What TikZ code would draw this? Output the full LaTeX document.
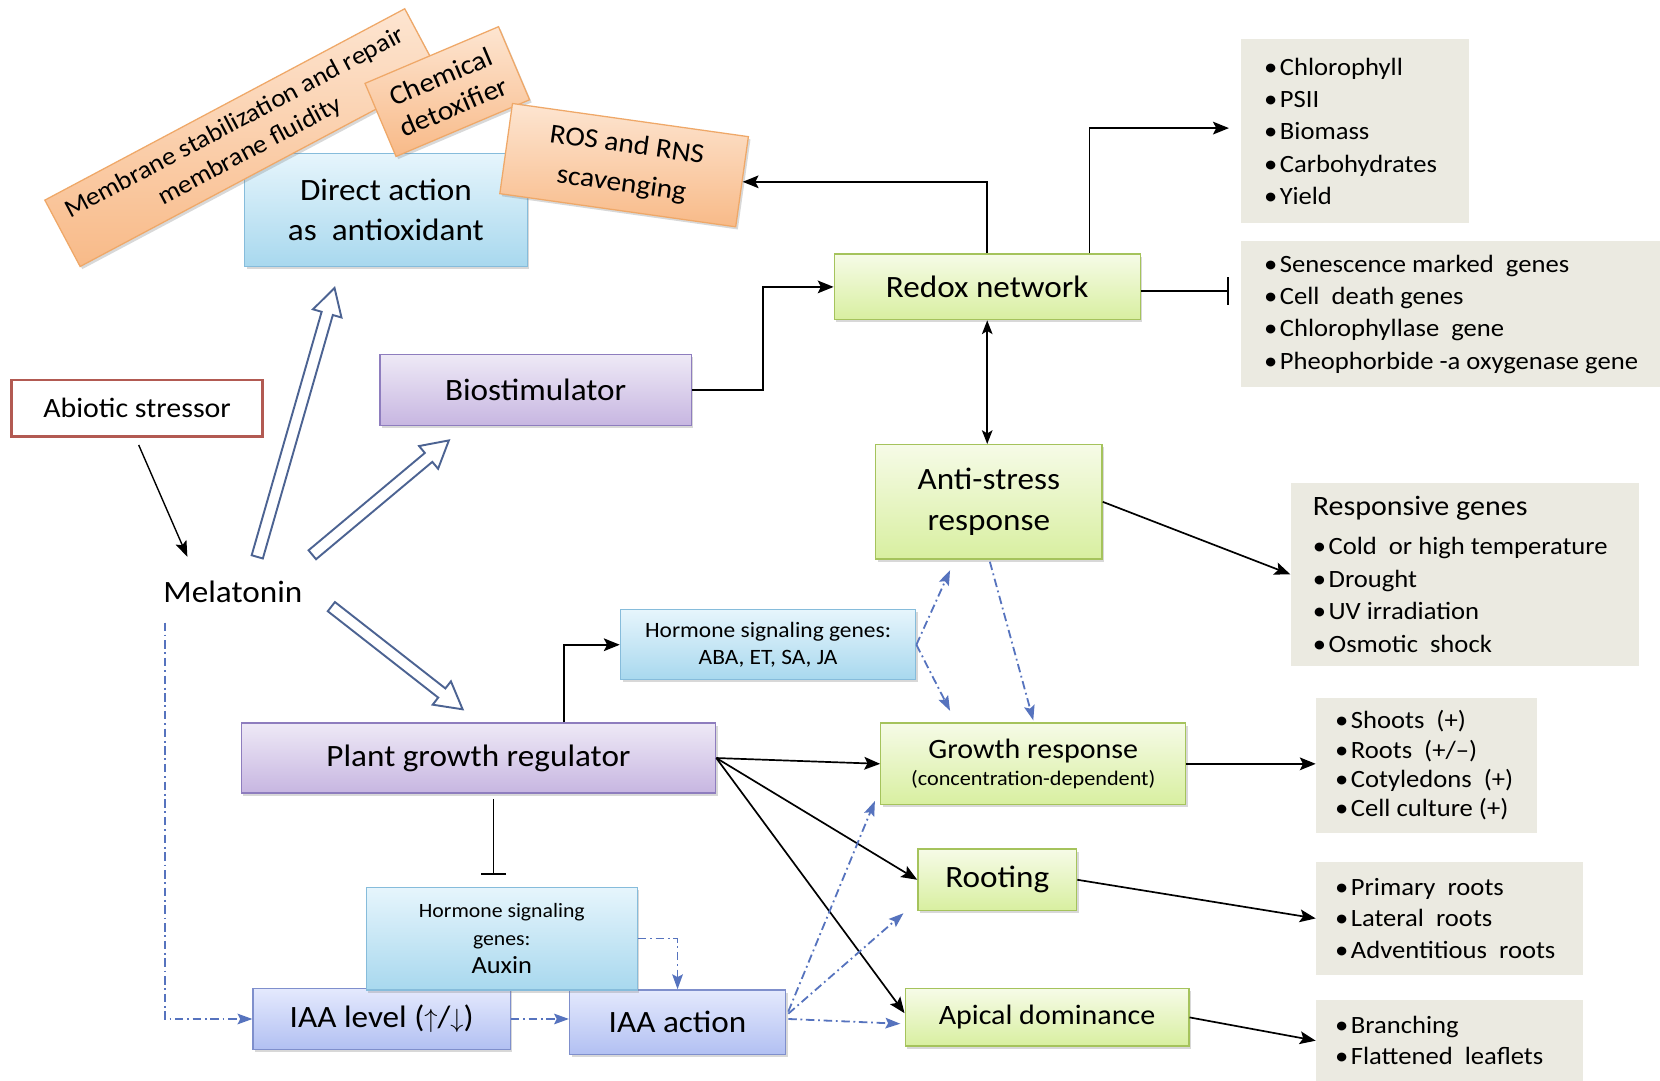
\documentclass[tikz,border=0pt]{standalone}
\usepackage{fontspec}
\setmainfont{Carlito}[FakeStretch=1.07]
\usetikzlibrary{arrows.meta,calc,shadows}
\definecolor{orA}{HTML}{FDE5D1}
\definecolor{orB}{HTML}{F8BA88}
\definecolor{orbd}{HTML}{EFA868}
\definecolor{blA}{HTML}{E6F5FC}
\definecolor{blB}{HTML}{A8D8EE}
\definecolor{blbd}{HTML}{86BCDB}
\definecolor{puA}{HTML}{EEE9F6}
\definecolor{puB}{HTML}{C7B6E1}
\definecolor{pubd}{HTML}{8E7DBE}
\definecolor{grA}{HTML}{F6FBE7}
\definecolor{grB}{HTML}{D8EFA0}
\definecolor{grbd}{HTML}{A5C35C}
\definecolor{iaA}{HTML}{E4E9FD}
\definecolor{iaB}{HTML}{B2C0F2}
\definecolor{iabd}{HTML}{7F8FCC}
\definecolor{grayL}{HTML}{EBEAE1}
\definecolor{abibd}{HTML}{B25A52}
\definecolor{hollowc}{HTML}{4C6392}
\definecolor{blueln}{HTML}{5673BE}
\newcommand\fsz[2]{\fontsize{#1pt}{#2pt}\selectfont}
\newcommand\bl{\makebox[15pt][l]{\textbullet}}
\newcommand\hollowarr[2]{%
  \coordinate (hh) at ($(#2)!25pt!(#1)$);
  \filldraw[hollow] ($(#1)!5.5pt!90:(#2)$) -- ($(hh)!5.5pt!90:(#2)$) -- ($(hh)!14pt!90:(#2)$) -- (#2)
    -- ($(hh)!14pt!-90:(#2)$) -- ($(hh)!5.5pt!-90:(#2)$) -- ($(#1)!5.5pt!-90:(#2)$) -- cycle;}
\begin{document}
\begin{tikzpicture}[x=1pt,y=-1pt,
  box/.style={draw, line width=1.2pt, inner sep=0pt, align=center,
    drop shadow={shadow xshift=2pt, shadow yshift=-2.5pt, opacity=0.3, fill=black!50}},
  orangebox/.style={box, draw=orbd, top color=orA, bottom color=orB},
  bluebox/.style={box, draw=blbd, top color=blA, bottom color=blB},
  purplebox/.style={box, draw=pubd, top color=puA, bottom color=puB},
  greenbox/.style={box, draw=grbd, top color=grA, bottom color=grB},
  iaabox/.style={box, draw=iabd, top color=iaA, bottom color=iaB},
  gbox/.style={fill=grayL, inner sep=0pt},
  gtext/.style={anchor=west, align=left, inner sep=0pt},
  arr/.style={line width=1.6pt, -{Stealth[length=15pt,width=12pt,inset=3pt]}},
  arrboth/.style={line width=1.6pt, {Stealth[length=13pt,width=10pt,inset=3pt]}-{Stealth[length=13pt,width=10pt,inset=3pt]}},
  tbar/.style={line width=1.6pt, -{Bar[width=26pt,line width=1.6pt]}},
  dd/.style={blueln, line width=1.7pt, dash pattern=on 8pt off 3.5pt on 1.7pt off 3.5pt,
    -{Stealth[length=14pt,width=10pt,inset=2.5pt]}},
  hollow/.style={draw=hollowc, line width=1.8pt, fill=white, line join=miter}]
\fill[white] (0,0) rectangle (1568,1021);
\useasboundingbox (0,0) rectangle (1568,1021);

% grey list boxes
\node[gbox, minimum width=216pt, minimum height=174pt] (L1) at (1280,124) {};
\node[gtext, font=\fsz{23.5}{30.5}] (T1) at ($(L1.west)+(22,0)$)
  {\bl Chlorophyll\\\bl PSII\\\bl Biomass\\\bl Carbohydrates\\\bl Yield};
\node[gbox, minimum width=396pt, minimum height=138pt] (L2) at (1370,297) {};
\node[gtext, font=\fsz{23.5}{30.3}] (T2) at ($(L2.west)+(22,0)$)
  {\bl Senescence marked\ \ genes\\\bl Cell\ \ death genes\\\bl Chlorophyllase\ \ gene\\\bl Pheophorbide -a oxygenase gene};
\node[gbox, minimum width=329pt, minimum height=173pt] (L3) at (1383.5,542.5) {};
\node[gtext, font=\fsz{23.5}{30.7}] (T3) at ($(L3.west)+(21,0)$)
  {{\fsz{26.5}{30.7}Responsive genes}\\[6pt]\bl Cold\ \ or high temperature\\\bl Drought\\\bl UV irradiation\\\bl Osmotic\ \ shock};
\node[gbox, minimum width=209pt, minimum height=128pt] (L4) at (1347.5,723) {};
\node[gtext, font=\fsz{23.5}{27.7}] (T4) at ($(L4.west)+(18,0)$)
  {\bl Shoots\ \ (+)\\\bl Roots\ \ (+/--)\\\bl Cotyledons\ \ (+)\\\bl Cell culture (+)};
\node[gbox, minimum width=252pt, minimum height=107pt] (L5) at (1369,867.5) {};
\node[gtext, font=\fsz{23.5}{29.5}] (T5) at ($(L5.west)+(18,0)$)
  {\bl Primary\ \ roots\\\bl Lateral\ \ roots\\\bl Adventitious\ \ roots};
\node[gbox, minimum width=252pt, minimum height=76pt] (L6) at (1369,983) {};
\node[gtext, font=\fsz{23.5}{29}] (T6) at ($(L6.west)+(18,0)$)
  {\bl Branching\\\bl Flattened\ \ leaflets};

% main boxes
\node[bluebox, minimum width=267pt, minimum height=107pt, font=\fsz{29.3}{38}] (da) at (364.5,198.5) {Direct action\\as\ \ antioxidant};
\node[orangebox, rotate=28, minimum width=385pt, minimum height=71pt, font=\fsz{24}{30}] (mem) at (229,130) {Membrane stabilization and repair\\membrane fluidity};
\node[orangebox, rotate=23, minimum width=137pt, minimum height=75pt, font=\fsz{26}{31}] (chem) at (422.5,86.5) {Chemical\\detoxifier};
\node[orangebox, rotate=-8, minimum width=225pt, minimum height=86pt, font=\fsz{26}{37}] (ros) at (589.5,156) {ROS and RNS\\scavenging};
\node[greenbox, minimum width=289pt, minimum height=62pt, font=\fsz{29.3}{38}] (redox) at (932.5,271) {Redox network};
\node[purplebox, minimum width=294pt, minimum height=67pt, font=\fsz{29.3}{38}] (bio) at (506,368.5) {Biostimulator};
\node[draw=abibd, line width=2.6pt, fill=white, inner sep=0pt, minimum width=237pt, minimum height=53pt, font=\fsz{26.4}{30}] (abi) at (129.5,385.5) {Abiotic stressor};
\node[inner sep=0pt, font=\fsz{29.3}{38}] (mel) at (220,559) {Melatonin};
\node[greenbox, minimum width=214pt, minimum height=108pt, font=\fsz{29.3}{38}] (anti) at (934,474) {Anti-stress\\response};
\node[bluebox, minimum width=279pt, minimum height=66pt, font=\fsz{20.7}{26}] (hab) at (725.5,609) {Hormone signaling genes:\\ABA, ET, SA, JA};
\node[purplebox, minimum width=448pt, minimum height=66pt, font=\fsz{29.3}{38}] (pgr) at (452,716) {Plant growth regulator};
\node[greenbox, minimum width=288pt, minimum height=77pt, font=\fsz{26.5}{26}] (grow) at (976,721.5) {Growth response\\{\fsz{19.6}{26}(concentration-dependent)}};
\node[greenbox, minimum width=150pt, minimum height=58pt, font=\fsz{29.3}{38}] (root) at (942,831) {Rooting};
\node[greenbox, minimum width=268pt, minimum height=54pt, font=\fsz{26.5}{30}] (apic) at (989,961) {Apical dominance};
\node[iaabox, minimum width=243pt, minimum height=57pt, font=\fsz{29.3}{38}] (iaal) at (360.5,962.5) {IAA level ($\uparrow$/$\downarrow$)};
\node[iaabox, minimum width=204pt, minimum height=61pt, font=\fsz{29.3}{38}] (iaaa) at (640,965.5) {IAA action};
\node[bluebox, minimum width=256pt, minimum height=97pt, font=\fsz{19.2}{26}] (aux) at (474,886.5) {Hormone signaling\\genes:\\{\fsz{23.3}{28}Auxin}};

% hollow arrows from Melatonin
\coordinate (h1a) at (243,526); \coordinate (h1b) at (316,272);
\coordinate (h2a) at (295,524); \coordinate (h2b) at (424,416);
\coordinate (h3a) at (313,573); \coordinate (h3b) at (437,670);
\hollowarr{h1a}{h1b}
\hollowarr{h2a}{h2b}
\hollowarr{h3a}{h3b}

% black connectors
\coordinate (melin) at (177,526);
\draw[line width=1.3pt, -{Stealth[length=15pt,width=11pt,inset=3pt]}] ($(abi.south)+(1.5,7)$) -- (melin);
\draw[arr] (redox.north) |- (ros.east);
\draw[arr] ($(redox.north)+(96.5,0)$) |- ($(L1.west)+(-11,-3)$);
\draw[tbar] ($(redox.east)+(0,4)$) -- ($(redox.east -| L2.west)+(-11,4)$);
\draw[arrboth] (redox.south) -- (redox.south |- anti.north);
\draw[arr] (bio.east) -- ++(67,0) |- (redox.west);
\draw[arr] ($(pgr.north)+(81,0)$) |- (hab.west);
\draw[line width=1.6pt, -{Bar[width=24pt,line width=1.6pt]}] ($(pgr.south)+(14,5)$) -- ($(pgr.south)+(14,77)$);
\draw[arr] (pgr.east) -- (grow.west);
\draw[arr] (pgr.east) -- (root.west);
\draw[arr] (pgr.east) -- ($(apic.west)+(0,-4)$);
\draw[arr] (grow.east) -- (grow.east -| L4.west);
\draw[arr] (root.east) -- (L5.west);
\draw[arr] (apic.east) -- (L6.west);
\draw[arr] (anti.east) -- (L3.west);

% blue dash-dot connectors
\draw[dd] ($(mel.west)+(1.5,29)$) |- (iaal.west);
\draw[dd] (iaal.east) -- (iaal.east -| iaaa.west);
\draw[dd] (aux.east) -| (iaaa.north);
\draw[dd] ($(iaaa.east)+(2,-10)$) -- ($(grow.south west)+(-5,-4)$);
\draw[dd] ($(iaaa.east)+(2,-8)$) -- ($(root.south west)+(-13,2)$);
\draw[dd] ($(iaaa.east)+(2,-3)$) -- ($(apic.west)+(-4,6)$);
\draw[dd] (hab.east) -- ($(anti.south west)+(71,10)$);
\draw[dd] (hab.east) -- ($(grow.north west)+(66,-11)$);
\draw[dd] ($(anti.south)+(1,2)$) -- ($(grow.north)+(0,-2)$);
\end{tikzpicture}
\end{document}
